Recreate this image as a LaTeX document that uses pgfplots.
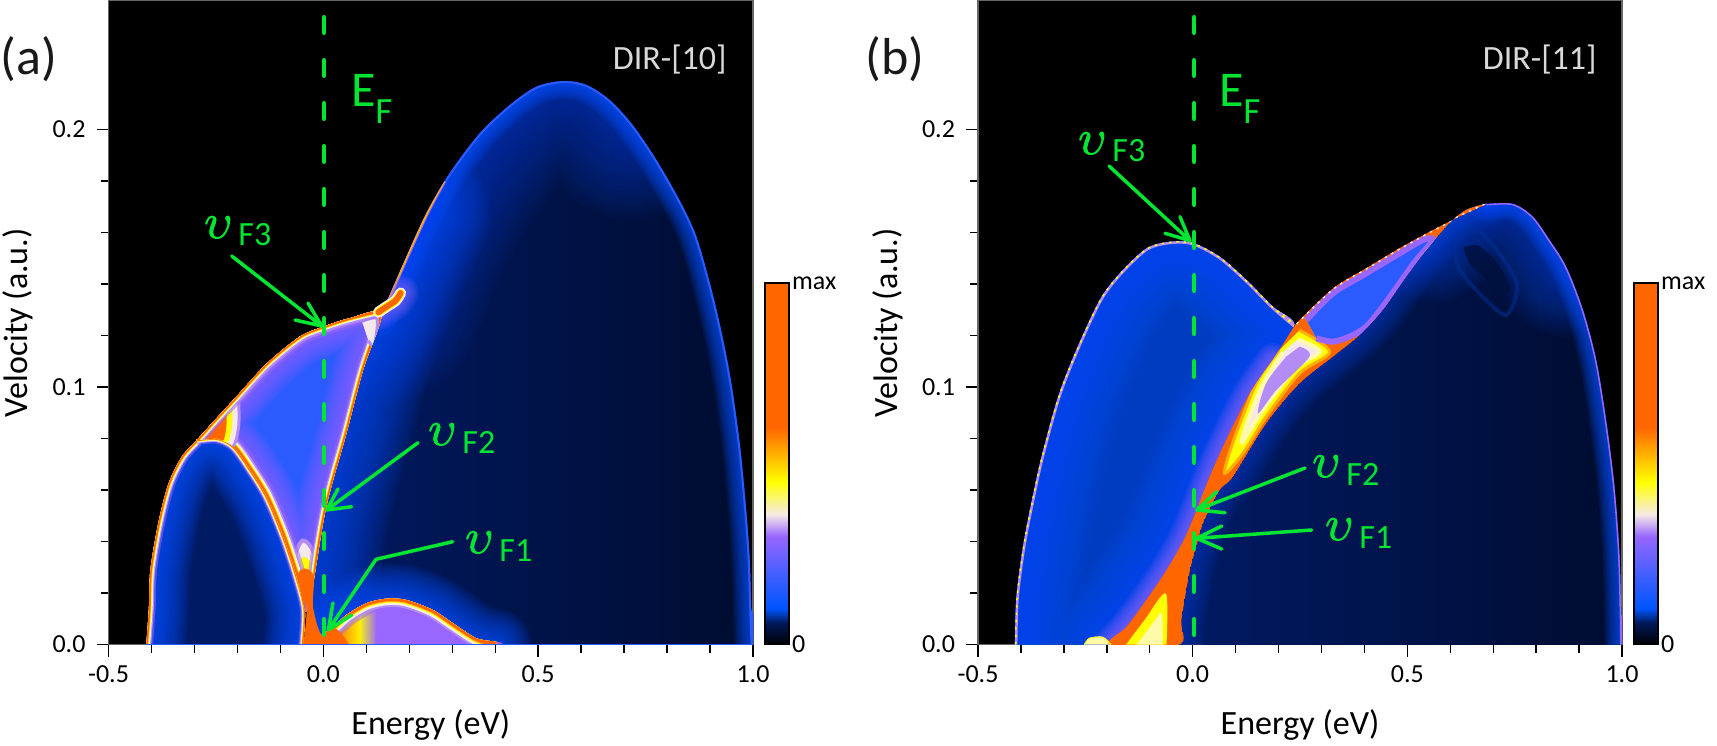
\documentclass[border=0pt]{standalone}
\usepackage{fontspec}
\setmainfont{Carlito}
\usepackage{pgfplots}
\pgfplotsset{compat=1.18}

\definecolor{efgreen}{RGB}{0,230,50}
\definecolor{hmorange}{RGB}{255,102,0}
\definecolor{hmamber}{RGB}{255,176,0}
\definecolor{hmyellow}{RGB}{255,255,0}
\definecolor{hmcream}{RGB}{255,250,170}
\definecolor{hmwhite}{RGB}{245,232,235}
\definecolor{hmlilac}{RGB}{180,140,245}
\definecolor{hmpurple}{RGB}{153,102,255}
\definecolor{hmblue}{RGB}{43,91,255}
\definecolor{hmazure}{RGB}{0,80,255}
\definecolor{hmnavy}{RGB}{0,26,100}
\definecolor{hmdark}{RGB}{0,10,40}

\pgfplotsset{
  colormap={hm}{rgb255(0)=(0,0,0); rgb255(6)=(0,25,90); rgb255(10)=(0,85,255); rgb255(20)=(70,95,255);
    rgb255(30)=(153,102,255); rgb255(36)=(245,235,230); rgb255(45)=(255,255,0); rgb255(60)=(255,102,0); rgb255(100)=(255,102,0)},
  w/.style={line width=#1*0.5pt},
  panel/.style={
    scale only axis, height=321.9pt,
    xmin=-0.5, xmax=1, ymin=0, ymax=0.25,
    axis background/.style={fill=black},
    axis line style={draw=black!60, line width=0.6pt},
    xtick={-0.5,0,0.5,1}, ytick={0,0.1,0.2},
    minor x tick num=4, minor y tick num=4,
    tick align=outside, tick pos=left,
    major tick length=6pt, minor tick length=4pt,
    tick style={black, line width=0.7pt},
    ticklabel style={font=\fontsize{13}{15}\selectfont},
    /pgf/number format/.cd, fixed, fixed zerofill, precision=1, assume math mode=true, /pgfplots/.cd,
    xticklabel style={yshift=-1pt},
    yticklabel style={xshift=-2pt},
    xlabel={Energy (eV)}, ylabel={Velocity (a.u.)},
    label style={font=\fontsize{17}{19}\selectfont},
    xlabel style={at={(axis description cs:0.5,-0.14)}, anchor=base},
    ylabel style={at={(axis description cs:-0.1254,0.5)}, anchor=base},
    colormap name=hm, point meta min=0, point meta max=1,
    colorbar,
    colorbar style={
      scale only axis, width=12pt, height=180.6pt,
      at={(1.0186,0)}, anchor=south west,
      ytick={0,1}, yticklabels={0,max}, yticklabel pos=right,
      minor y tick num=0, xlabel={}, ylabel={},
      tick pos=right, major tick length=6.5pt,
      axis line style={draw=black, line width=0.8pt},
      yticklabel style={xshift=-2pt},
      axis background/.style={},
    },
  },
}

% helpers: each takes a macro that holds the points
\def\pfill#1#2{\addplot[smooth,tension=.5,draw=none,#2] coordinates {#1};}
\def\pline#1#2{\addplot[smooth,tension=.5,#2] coordinates {#1};}
\def\pclip#1{\clip plot[smooth,tension=.5] coordinates {#1};}
\newcommand\Fill[2]{\expandafter\pfill\expandafter{#1}{#2}}
\newcommand\Line[2]{\expandafter\pline\expandafter{#1}{#2}}
\newcommand\Clip[1]{\expandafter\pclip\expandafter{#1}}
% soft edge: stacked transparent strokes
\newcommand\Glow[5]{\pgfplotsinvokeforeach{1,...,#3}{\Line{#1}{draw=#2,draw opacity=#5,line cap=round,w=##1/#3*#4}}}
% colour ramp at a boundary, from the colour bar
\newcommand\Hot[2]{%
  \Line{#1}{draw=hmpurple,draw opacity=.5,w=#2*9}
  \Line{#1}{draw=hmlilac,w=#2*6.5}
  \Line{#1}{draw=hmwhite,w=#2*5}
  \Line{#1}{draw=hmcream,w=#2*4}
  \Line{#1}{draw=hmyellow,w=#2*3.2}
  \Line{#1}{draw=hmamber,w=#2*2.6}
  \Line{#1}{draw=hmorange,w=#2*2}
}

% ---- panel a, curves
\def\AenvL{(-0.412,0)(-0.406,0.014)(-0.4025,0.029)(-0.383,0.048)(-0.36,0.0626)(-0.329,0.073)(-0.294,0.0794)}
\def\AenvM{(-0.294,0.0794)(-0.252,0.0872)(-0.209,0.095)(-0.132,0.109)(-0.055,0.1195)(0,0.1234)(0.0615,0.1267)(0.135,0.1297)}
\def\AenvR{(0.135,0.1273)(0.143,0.1312)(0.1935,0.1506)(0.24,0.1675)(0.294,0.183)(0.364,0.1985)(0.434,0.2095)(0.496,0.2166)(0.558,0.2188)(0.612,0.2173)(0.666,0.2115)(0.72,0.2017)(0.775,0.1882)(0.829,0.1725)(0.868,0.1585)(0.904,0.1375)(0.9316,0.1175)(0.951,0.1)(0.97,0.0768)(0.9835,0.0535)(0.992,0.0341)(0.996,0.0134)(0.999,0)}
\def\AenvTop{(0.143,0.1312)(0.1935,0.1506)(0.24,0.1675)(0.294,0.183)(0.364,0.1985)(0.434,0.2095)(0.496,0.2166)(0.558,0.2188)(0.612,0.2173)(0.666,0.2115)(0.72,0.2017)}
\def\AenvLow{(0.143,0.1312)(0.1935,0.1506)(0.24,0.1675)(0.28,0.18)}
\def\Aarc{(-0.294,0.0794)(-0.248,0.08)(-0.209,0.0768)(-0.17,0.0678)(-0.132,0.0574)(-0.093,0.0419)(-0.062,0.0263)(-0.043,0.0134)(-0.047,0)}
\def\Afii{(-0.03,0.01)(-0.016,0.0315)(0.0035,0.0509)(0.0228,0.0639)(0.0537,0.082)(0.0924,0.1066)(0.135,0.1273)}
\def\AfiiLong{(-0.03,0.01)(-0.016,0.0315)(0.0035,0.0509)(0.0228,0.0639)(0.0537,0.082)(0.0924,0.1066)(0.135,0.1273)(0.1935,0.1506)(0.24,0.1675)}
\def\Abump{(-0.004,0.0037)(0.023,0.0069)(0.054,0.0115)(0.1,0.016)(0.147,0.0178)(0.193,0.0173)(0.255,0.0134)(0.302,0.0082)(0.356,0.0024)(0.403,0.0002)}
\edef\AregOne{\Afii\AenvR(-0.03,0)}
\edef\AregTwo{\AenvL\Aarc}
\def\AregThree{(-0.294,0.0794)(-0.252,0.0872)(-0.209,0.095)(-0.132,0.109)(-0.055,0.1195)(0,0.1234)(0.0615,0.1267)(0.135,0.1285)(0.0924,0.1066)(0.0537,0.082)(0.0228,0.0639)(0.0035,0.0509)(-0.016,0.0315)(-0.032,0.015)(-0.043,0.0134)(-0.062,0.0263)(-0.093,0.0419)(-0.132,0.0574)(-0.17,0.0678)(-0.209,0.0768)(-0.248,0.08)}
\def\AregFour{(-0.004,0.0037)(0.023,0.0069)(0.054,0.0115)(0.1,0.016)(0.147,0.0178)(0.193,0.0173)(0.255,0.0134)(0.302,0.0082)(0.356,0.0024)(0.403,0.0002)(-0.004,0)}
\def\Acone{(-0.047,0)(-0.039,0.0147)(-0.06,0.0265)(-0.043,0.0295)(-0.022,0.0265)(-0.024,0.0147)(-0.004,0.0037)(0.03,0.006)(0.06,0)}
\def\AtipW{(-0.073,0.0287)(-0.047,0.0395)(-0.02,0.0315)(-0.03,0.014)(-0.05,0.014)}
\def\AtipY{(-0.07,0.0265)(-0.047,0.034)(-0.02,0.029)(-0.03,0.014)(-0.05,0.014)}
\def\AcornW{(-0.296,0.0785)(-0.24,0.09)(-0.205,0.0965)(-0.2,0.086)(-0.212,0.0775)(-0.24,0.0795)}
\def\AcornY{(-0.296,0.0785)(-0.24,0.09)(-0.215,0.095)(-0.212,0.086)(-0.222,0.0785)(-0.24,0.0795)}
\def\AcornO{(-0.296,0.0785)(-0.24,0.09)(-0.228,0.0925)(-0.225,0.086)(-0.232,0.0795)(-0.25,0.0795)}
\def\AcornTwo{(0.09,0.1255)(0.125,0.1265)(0.118,0.116)(0.105,0.118)}
\def\AbumpO{(-0.01,-0.005)(-0.01,0.02)(0.06,0.02)(0.06,-0.005)}
\def\AbumpY{(0.03,-0.005)(0.03,0.02)(0.085,0.02)(0.085,-0.005)}
\def\AbumpW{(0.085,-0.005)(0.085,0.02)(0.12,0.02)(0.12,-0.005)}
\def\Ablob{(0.128,0.129)(0.15,0.1315)(0.168,0.1335)(0.18,0.1365)}
\def\Abase{(-0.412,0)(0.999,0)}
% ---- panel b
\def\BenvL{(-0.414,0)(-0.4105,0.0186)(-0.394,0.0393)(-0.372,0.058)(-0.352,0.073)(-0.3135,0.0962)(-0.271,0.1144)(-0.2165,0.1338)(-0.17,0.1441)(-0.108,0.1538)(-0.0535,0.1564)(0,0.156)(0.063,0.1506)(0.125,0.1416)(0.187,0.1312)(0.2375,0.124)}
\def\BenvU{(0.241,0.1247)(0.327,0.1383)(0.404,0.1461)(0.482,0.1539)(0.56,0.161)(0.622,0.1662)(0.684,0.1711)}
\def\BenvR{(0.684,0.1711)(0.746,0.1711)(0.792,0.1662)(0.831,0.1571)(0.87,0.1467)(0.909,0.13)(0.94,0.1105)(0.963,0.0872)(0.9825,0.0613)(0.994,0.0354)(0.998,0.012)(0.999,0)}
\def\BtopR{(0.56,0.16)(0.622,0.1662)(0.684,0.1711)(0.746,0.1711)(0.792,0.1662)(0.831,0.1571)(0.87,0.1467)}
\def\BlowE{(-0.032,0)(-0.0263,0.0095)(-0.007,0.0283)(0.0086,0.038)(0.024,0.047)(0.0629,0.06)(0.094,0.0652)(0.1715,0.0859)(0.249,0.1014)(0.327,0.1118)(0.389,0.1202)(0.443,0.13)(0.497,0.1428)(0.544,0.1532)(0.598,0.1636)(0.637,0.1688)(0.684,0.1711)}
\def\BbandL{(0.187,0.1105)(0.133,0.0975)(0.078,0.0794)(0.0396,0.0652)(0,0.0485)(-0.0226,0.04)(-0.061,0.0289)(-0.108,0.0173)(-0.154,0.0069)(-0.193,0)}
\edef\BregLobe{\BenvL\BbandL}
\edef\BregBand{\BenvU(0.637,0.1688)(0.598,0.1636)(0.544,0.1532)(0.497,0.1428)(0.443,0.13)(0.389,0.1202)(0.327,0.1118)(0.249,0.1014)(0.1715,0.0859)(0.094,0.0652)(0.0629,0.06)(0.024,0.047)(0.0086,0.038)(-0.007,0.0283)(-0.0263,0.0095)(-0.032,0)(-0.193,0)(-0.154,0.0069)(-0.108,0.0173)(-0.061,0.0289)(-0.0226,0.04)(0,0.0485)(0.0396,0.0652)(0.078,0.0794)(0.133,0.0975)(0.187,0.1105)}
\edef\BregLow{\BlowE\BenvR(-0.032,0)}
\def\BupIn{(0.265,0.126)(0.327,0.1364)(0.404,0.1441)(0.482,0.1519)(0.536,0.1571)(0.56,0.1571)(0.521,0.1493)(0.482,0.1403)(0.443,0.1312)(0.404,0.1234)(0.366,0.1196)(0.327,0.1176)(0.288,0.1189)}
\def\BlowY{(0.249,0.122)(0.319,0.1137)(0.249,0.1053)(0.1715,0.0885)(0.117,0.0742)(0.0745,0.0665)(0.094,0.0785)(0.148,0.1014)(0.202,0.1143)}
\def\BlowW{(0.245,0.1185)(0.296,0.1137)(0.24,0.1075)(0.165,0.0915)(0.115,0.0785)(0.13,0.0875)(0.165,0.1015)(0.21,0.1135)}
\def\BlowP{(0.249,0.1157)(0.272,0.1118)(0.195,0.0988)(0.152,0.0897)(0.171,0.1014)(0.218,0.1118)}
\def\BtriY{(-0.155,0)(-0.112,0.0095)(-0.0625,0.0198)(-0.061,0)}
\def\BtriW{(-0.13,0)(-0.085,0.01)(-0.072,0.012)(-0.07,0)}
\def\Bstreak{(-0.252,0)(-0.24,0.0024)(-0.21,0.0028)(-0.19,0)}
\def\Bswirl{(0.63,0.154)(0.665,0.155)(0.71,0.148)(0.74,0.138)(0.72,0.1365)(0.68,0.1425)(0.645,0.1475)}
\def\Bring{(0.61,0.1545)(0.65,0.162)(0.7,0.155)(0.755,0.14)(0.73,0.128)(0.67,0.136)(0.62,0.146)(0.61,0.1545)}

\newcommand\thick[1]{\special{pdf:code q 2 Tr 0.5 w}#1\special{pdf:code Q}}

\begin{document}
\begin{tikzpicture}
\useasboundingbox (0,0) rectangle (858.5pt,372.5pt);

% ---------------- (a)
\begin{axis}[panel, width=322.25pt, at={(54.25pt,50.25pt)}, anchor=south west]
  \begin{scope}
    \Clip{\AregOne}
    \Fill{\AregOne}{left color=hmnavy, right color=hmdark}
    \Glow{\AenvTop}{hmazure}{20}{190}{.035}
    \Glow{\AenvR}{hmazure}{10}{36}{.12}
    \Glow{\AfiiLong}{hmazure}{20}{130}{.06}
    \Glow{\Abump}{hmazure}{14}{70}{.09}
    \Line{\AenvR}{draw=hmblue,w=4}
    \Line{\AenvLow}{draw=hmpurple,w=5}
    \Line{\AenvLow}{draw=hmamber,w=3}
    \Glow{\Ablob}{hmpurple}{8}{36}{.12}
  \end{scope}
  \begin{scope}
    \Clip{\AregTwo}
    \Fill{\AregTwo}{fill=hmnavy}
    \Glow{\AregTwo}{hmazure}{20}{80}{.085}
    \Hot{\AenvL}{1.5}
    \Hot{\Aarc}{1.1}
  \end{scope}
  \begin{scope}
    \Clip{\AregThree}
    \Fill{\AregThree}{fill=hmblue}
    \Glow{\AregThree}{hmpurple}{16}{60}{.09}
    \Line{\AtipW}{draw=hmlilac,w=8}
    \Fill{\AtipW}{fill=hmwhite}
    \Fill{\AtipY}{fill=hmyellow}
    \Hot{\AenvM}{2}
    \Hot{\Aarc}{2.2}
    \Hot{\Afii}{1.6}
    \Line{\AcornW}{draw=hmlilac,w=6}
    \Fill{\AcornW}{fill=hmwhite}
    \Fill{\AcornY}{fill=hmyellow}
    \Fill{\AcornO}{fill=hmorange}
    \Fill{\AcornTwo}{fill=hmwhite,draw=hmlilac,w=3}
    \Hot{\AenvM}{1.5}
  \end{scope}
  \begin{scope}
    \Clip{\AregFour}
    \Fill{\AregFour}{fill=hmpurple}
    \Fill{\AbumpW}{left color=hmyellow,middle color=hmwhite,right color=hmpurple}
    \Fill{\AbumpY}{left color=hmorange,right color=hmyellow}
    \Fill{\AbumpO}{fill=hmorange}
    \Fill{\AbumpY}{left color=hmorange,right color=hmyellow}
    \Hot{\Abump}{2.6}
  \end{scope}
  \Fill{\Acone}{fill=hmorange}
  \Line{\Ablob}{draw=hmwhite,w=11,line cap=round}
  \Line{\Ablob}{draw=hmyellow,w=8,line cap=round}
  \Line{\Ablob}{draw=hmorange,w=6,line cap=round}
  \Line{\Abase}{draw=hmblue,w=1.5}
\end{axis}

% ---------------- (b)
\begin{axis}[panel, width=322pt, at={(489pt,50.25pt)}, anchor=south west]
  \begin{scope}
    \Clip{\BregLow}
    \Fill{\BregLow}{left color=hmnavy, right color=hmdark}
    \Glow{\BtopR}{hmazure}{20}{140}{.04}
    \Glow{\BenvR}{hmazure}{10}{34}{.12}
    \Glow{\BlowE}{hmazure}{14}{50}{.04}
    \Line{\Bring}{draw=hmazure!60!black,draw opacity=.5,w=4}
    \Fill{\Bswirl}{fill=hmnavy!60!black,fill opacity=.8}
    \Line{\BenvR}{draw=hmpurple,w=3}
  \end{scope}
  \begin{scope}
    \Clip{\BregLobe}
    \Fill{\BregLobe}{fill=hmazure!75!black}
    \Glow{\BregLobe}{hmazure}{20}{130}{.07}
    \Glow{\BbandL}{hmpurple}{10}{34}{.1}
    \Line{\BenvL}{draw=hmlilac,w=5}
    \Line{\BenvL}{draw=hmyellow,w=3,dash pattern=on 1.2pt off 2.5pt}
    \Fill{\Bstreak}{fill=hmcream,draw=hmwhite,w=1}
  \end{scope}
  \begin{scope}
    \Clip{\BregBand}
    \Fill{\BregBand}{fill=hmorange}
    \Fill{\BlowY}{fill=hmyellow,draw=hmamber,w=3}
    \Fill{\BlowW}{fill=hmwhite,draw=hmcream,w=4}
    \Fill{\BlowP}{fill=hmlilac}
    \Fill{\BupIn}{fill=hmwhite,draw=hmyellow,w=2}
    \Fill{\BupIn}{fill=hmblue,draw=hmpurple,w=6}
    \Fill{\BtriY}{fill=hmyellow}
    \Fill{\BtriW}{fill=hmcream}
    \Line{\BenvU}{draw=hmwhite,w=3,dash pattern=on 1.2pt off 2.5pt}
  \end{scope}
  \Line{\Bstreak}{draw=hmyellow,w=1}
\end{axis}

% dashed E_F and annotations, picture pixels
\begin{scope}[x=0.5pt,y=-0.5pt,yshift=372.5pt]
\tikzset{ef/.style={efgreen,line width=2.3pt,line cap=round},
  barb/.style={efgreen,line width=1.75pt,line cap=round,line join=round}}
\draw[ef,dash pattern=on 7.7pt off 13.8pt] (324,17.3) -- (324,635);
\draw[ef,dash pattern=on 7.7pt off 13.8pt] (1194,17.3) -- (1194,635);

\draw[barb] (231.7,256) -- (321.7,326) (308,303) -- (321.7,326) -- (295,320);
\draw[barb] (418,442.7) -- (326.7,510) (338,489) -- (326.7,510) -- (351.7,506.7);
\draw[barb] (452.7,541.7) -- (376,559.3) -- (328.3,630) (333,603) -- (328.3,630) -- (351.7,615);
\draw[barb] (1109,166) -- (1190,240.7) (1180,216.7) -- (1190,240.7) -- (1165,233.3);
\draw[barb] (1305,468) -- (1196.7,510) (1216.7,491.7) -- (1196.7,510) -- (1225,512.7);
\draw[barb] (1311.7,530) -- (1196.7,538.3) (1221.7,526) -- (1196.7,538.3) -- (1221.7,549);

\newcommand\efsub[3]{% x, y of the upsilon baseline, subscript
  \node[efgreen,anchor=base west,inner sep=0pt,font=\fontsize{27}{27}\selectfont] at (#1,#2) {\thick{$\upsilon$}};
  \node[efgreen,anchor=base west,inner sep=0pt,font=\fontsize{17}{17}\selectfont] at (#1+34,#2+8) {#3};}
\efsub{204}{238}{F3}
\efsub{428}{445}{F2}
\efsub{465}{553}{F1}
\efsub{1078}{154}{F3}
\efsub{1312}{477}{F2}
\efsub{1325}{540}{F1}

\node[efgreen,anchor=base west,inner sep=0pt,font=\fontsize{25}{25}\selectfont] at (351,107) {E};
\node[efgreen,anchor=base west,inner sep=0pt,font=\fontsize{18.5}{18.5}\selectfont] at (375,124) {F};
\node[efgreen,anchor=base west,inner sep=0pt,font=\fontsize{25}{25}\selectfont] at (1219,107) {E};
\node[efgreen,anchor=base west,inner sep=0pt,font=\fontsize{18.5}{18.5}\selectfont] at (1243,124) {F};

\node[black!15,anchor=base east,inner sep=0pt,font=\fontsize{17}{17}\selectfont] at (727,70) {DIR-[10]};
\node[black!15,anchor=base east,inner sep=0pt,font=\fontsize{17}{17}\selectfont] at (1597,70) {DIR-[11]};
\node[black!90,anchor=base west,inner sep=0pt,font=\fontsize{26}{26}\selectfont] at (0,75) {(a)};
\node[black!90,anchor=base west,inner sep=0pt,font=\fontsize{26}{26}\selectfont] at (865,75) {(b)};
\end{scope}
\end{tikzpicture}
\end{document}
